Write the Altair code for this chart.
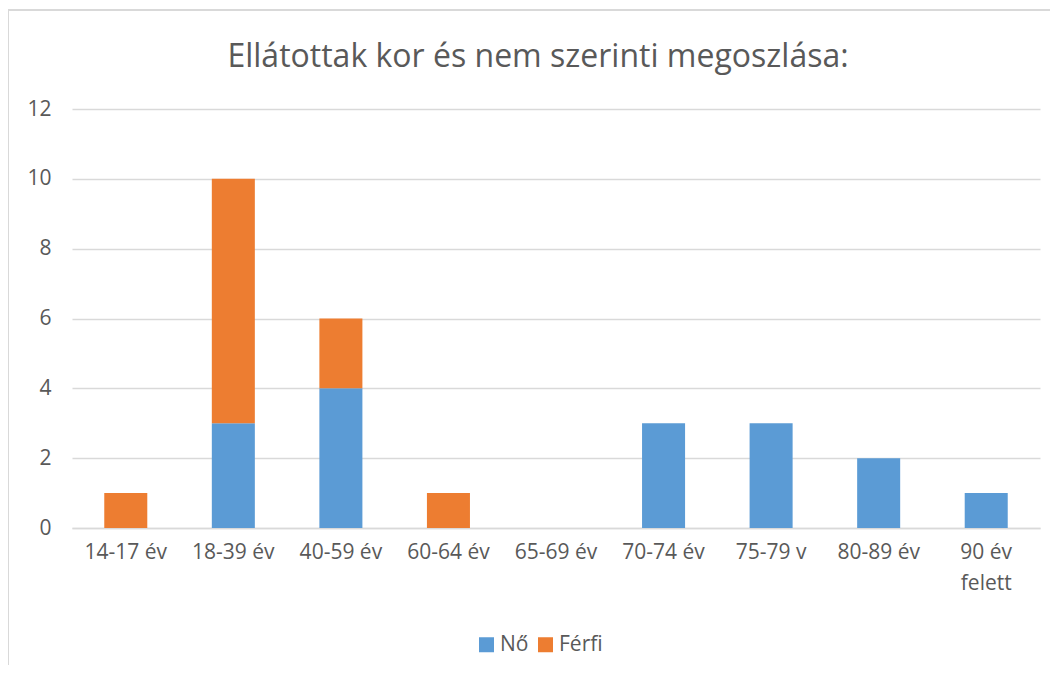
import altair as alt
import pandas as pd

categories = ["14-17 év", "18-39 év", "40-59 év", "60-64 év", "65-69 év",
              "70-74 év", "75-79 v", "80-89 év", "90 év\nfelett"]
no_values = [0, 3, 4, 0, 0, 3, 3, 2, 1]
ferfi_values = [1, 7, 2, 1, 0, 0, 0, 0, 0]
series = ["Nő", "Férfi"]
colors = ["#5B9BD5", "#ED7D31"]
y_ticks = [0, 2, 4, 6, 8, 10, 12]
title_text = "Ellátottak kor és nem szerinti megoszlása:"

rows = []
for c, n, f in zip(categories, no_values, ferfi_values):
    rows.append({"kat": c, "nem": "Nő", "ertek": n, "ord": 0})
    rows.append({"kat": c, "nem": "Férfi", "ertek": f, "ord": 1})
df = pd.DataFrame(rows)

FONT = "Open Sans"
GRAY = "#595959"
FS = 21

bars = alt.Chart(df).mark_bar().encode(
    x=alt.X("kat:N", sort=categories, title=None,
            scale=alt.Scale(paddingInner=0.6, paddingOuter=0.3),
            axis=alt.Axis(labelAngle=0, ticks=False, domainColor="#d9d9d9",
                          domainWidth=1.5, labelPadding=13, labelFontSize=FS,
                          labelColor=GRAY, labelFont=FONT,
                          labelExpr="split(datum.label, '\\n')",
                          labelLineHeight=31, grid=False)),
    y=alt.Y("ertek:Q", stack="zero", title=None,
            scale=alt.Scale(domain=[0, 12], nice=False),
            axis=alt.Axis(values=y_ticks, ticks=False, domain=False,
                          gridColor="#d9d9d9", gridWidth=1.5,
                          labelPadding=21, labelFontSize=FS, labelColor=GRAY,
                          labelFont=FONT)),
    color=alt.Color("nem:N", sort=series,
                    scale=alt.Scale(domain=series, range=colors),
                    legend=alt.Legend(title=None, orient="none", direction="horizontal",
                                      legendX=404, legendY=525, symbolType="square",
                                      symbolSize=225, symbolStrokeWidth=0,
                                      labelFontSize=FS, labelColor=GRAY,
                                      labelFont=FONT, columnPadding=6,
                                      labelOffset=3)),
    order=alt.Order("ord:Q"),
)

one_row = alt.Data(values=[{"t": title_text}])
title_mark = alt.Chart(one_row).mark_text(
    font=FONT, fontSize=32, color=GRAY, align="center", baseline="alphabetic"
).encode(text="t:N", x=alt.value(466), y=alt.value(-42))

top_line = alt.Chart(one_row).mark_rule(color="#d9d9d9", strokeWidth=2).encode(
    x=alt.value(-64), x2=alt.value(1050), y=alt.value(-99))
left_line = alt.Chart(one_row).mark_rule(color="#d9d9d9", strokeWidth=2).encode(
    x=alt.value(-64), y=alt.value(-99), y2=alt.value(560))

chart = alt.layer(bars, title_mark, top_line, left_line).properties(
    width=968, height=419,
    autosize=alt.AutoSizeParams(type="none"),
    padding={"left": 64, "top": 101, "right": 10, "bottom": 137},
).configure_view(stroke=None)

chart.save("out.html", embed_options={"renderer": "svg", "actions": False})
